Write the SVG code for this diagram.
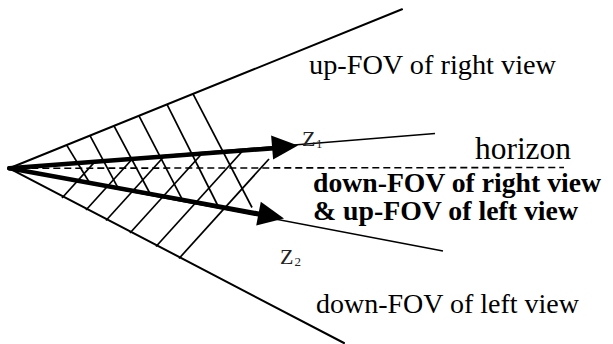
<svg xmlns="http://www.w3.org/2000/svg" width="613" height="344" viewBox="0 0 613 344">
<style>
.bd{stroke:#000;stroke-width:2;fill:none;stroke-linecap:round}
.th{stroke:#000;stroke-width:1.6;fill:none}
.ht{stroke:#000;stroke-width:1.7;fill:none}
.tk{stroke:#000;stroke-width:4.5;fill:none;stroke-linecap:round}
.dash{stroke:#000;stroke-width:1.6;stroke-dasharray:7 4;fill:none}
.reg{font-family:"Liberation Serif",serif;font-size:28px;fill:#000}
.bold{font-family:"Liberation Serif",serif;font-size:28px;font-weight:bold;fill:#000}
.z{font-family:"Liberation Serif",serif;font-size:22px;fill:#222}
.sub{font-family:"Liberation Serif",serif;font-size:13px;fill:#222}
</style>
<rect width="613" height="344" fill="#fff"/>
<g id="hatching">
<line class="ht" x1="66.7" y1="145.1" x2="90" y2="183.5"/>
<line class="ht" x1="90" y1="135.6" x2="118.5" y2="188.8"/>
<line class="ht" x1="114" y1="125.9" x2="150.5" y2="194.5"/>
<line class="ht" x1="139" y1="115.8" x2="183" y2="200.8"/>
<line class="ht" x1="167" y1="104.4" x2="218" y2="206"/>
<line class="ht" x1="193" y1="93.9" x2="252" y2="207.5"/>
<line class="ht" x1="62" y1="198" x2="95" y2="161.6"/>
<line class="ht" x1="86" y1="210" x2="132.5" y2="158.7"/>
<line class="ht" x1="106" y1="220.5" x2="164.2" y2="156.2"/>
<line class="ht" x1="130" y1="233" x2="202.3" y2="153.2"/>
<line class="ht" x1="156" y1="246.5" x2="243" y2="150.5"/>
<line class="ht" x1="179" y1="258.5" x2="269" y2="159"/>
</g>
<g id="connectors">
<line class="bd" x1="9.3" y1="168.3" x2="402" y2="9.3"/>
<line class="bd" x1="9.3" y1="168.3" x2="344" y2="343"/>
<line class="dash" x1="9.3" y1="168.3" x2="564" y2="167.5"/>
<line class="th" x1="9.3" y1="168.3" x2="435" y2="133.5"/>
<line class="th" x1="9.3" y1="168.3" x2="443" y2="251"/>
<line class="tk" x1="9.3" y1="168.3" x2="274" y2="148.2"/>
<line class="tk" x1="9.3" y1="168.3" x2="260" y2="214"/>
<polygon points="298,145.5 273.1,159.6 271.1,135.6" fill="#000"/>
<polygon points="284,218.5 256.2,225.4 260.8,201.8" fill="#000"/>
</g>
<g id="label-z1"><text class="z" x="302" y="146">Z</text><text class="sub" x="316" y="148">1</text></g>
<g id="label-z2"><text class="z" x="280" y="264">Z</text><text class="sub" x="294.5" y="266">2</text></g>
<g id="label-up-right"><text class="reg" x="309" y="74" textLength="247" lengthAdjust="spacingAndGlyphs">up-FOV of right view</text></g>
<g id="label-horizon"><text class="reg" x="475" y="159" style="font-size:31px" textLength="96" lengthAdjust="spacingAndGlyphs">horizon</text></g>
<g id="label-mid"><text class="bold" x="313" y="191.5" textLength="288" lengthAdjust="spacingAndGlyphs">down-FOV of right view</text><text class="bold" x="313" y="220" textLength="265" lengthAdjust="spacingAndGlyphs">&amp; up-FOV of left view</text></g>
<g id="label-down-left"><text class="reg" x="316" y="313" textLength="263" lengthAdjust="spacingAndGlyphs">down-FOV of left view</text></g>
</svg>
